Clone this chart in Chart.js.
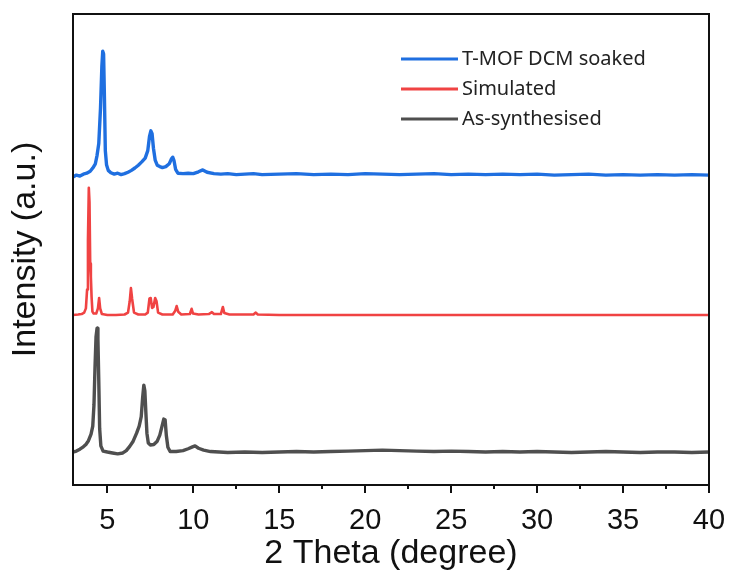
<!DOCTYPE html>
<html>
<head>
<meta charset="utf-8">
<script src="https://cdn.jsdelivr.net/npm/chart.js@4"></script>
<style>
  html, body { margin: 0; padding: 0; background: #fff; }
  #wrap { width: 731px; height: 571px; }
</style>
</head>
<body>
<div id="wrap"><canvas id="c" width="731" height="571"></canvas></div>
<script>
// ---- data ----
const seriesLabels = ['T-MOF DCM soaked', 'Simulated', 'As-synthesised'];
const seriesColors = ['#1f6fe0', '#f04343', '#4f4f4f'];

const blueX = [3.0,3.2,3.4,3.6,3.8,4.0,4.15,4.3,4.4,4.5,4.6,4.68,4.73,4.78,4.83,4.88,4.95,5.05,5.2,5.4,5.6,5.8,6.0,6.2,6.4,6.6,6.8,7.0,7.2,7.35,7.45,7.53,7.6,7.68,7.78,7.9,8.05,8.2,8.4,8.6,8.72,8.8,8.88,8.97,9.1,9.4,9.7,10.0,10.3,10.55,10.8,11.2,11.6,12.0,12.5,13.0,13.5,14.0,15,16,17,18,19,20,21,22,23,24,25,26,27,28,29,30,31,32,33,34,35,36,37,38,39,40];
const blueY = [65.4,65.8,65.6,66.0,66.2,66.6,67.3,68.2,70.0,72.5,80.0,89.0,92.1,91.5,82.0,71.0,68.0,66.8,66.3,66.0,66.2,65.9,66.1,66.4,66.8,67.3,67.9,68.6,69.4,71.0,74.0,75.2,74.6,71.5,69.0,67.9,67.6,67.4,67.6,68.2,69.2,69.6,68.8,67.0,66.2,66.1,66.2,66.1,66.5,66.9,66.4,66.1,66.0,66.1,65.9,66.0,66.1,65.9,66.0,66.1,65.9,66.0,65.9,66.1,66.0,65.9,66.0,66.1,65.9,66.0,65.9,66.0,65.9,66.0,65.8,65.9,66.0,65.8,65.9,65.8,65.9,65.8,65.9,65.8];

const redX = [3.0,3.3,3.5,3.65,3.75,3.82,3.87,3.92,3.96,4.0,4.04,4.08,4.13,4.2,4.35,4.45,4.52,4.58,4.68,5.0,5.5,6.0,6.2,6.3,6.37,6.44,6.55,6.8,7.2,7.35,7.45,7.52,7.6,7.68,7.78,7.86,7.95,8.2,8.8,8.95,9.03,9.12,9.3,9.8,9.9,9.98,10.3,10.9,11.08,11.2,11.6,11.72,11.8,12.1,13.5,13.62,13.75,15,20,25,30,35,40];
const redY = [36.1,36.2,36.3,36.6,37.5,41.5,52.0,63.1,60.0,47.0,44.2,40.0,36.8,36.4,36.4,37.5,39.7,37.5,36.3,36.1,36.1,36.2,36.6,39.0,41.8,39.5,36.6,36.2,36.2,36.6,39.6,39.7,37.6,37.8,39.7,39.0,36.6,36.2,36.2,37.0,38.0,36.8,36.2,36.3,37.4,36.4,36.2,36.3,36.7,36.3,36.3,37.8,36.5,36.2,36.2,36.6,36.2,36.1,36.1,36.1,36.1,36.1,36.1];

const greyX = [3.0,3.2,3.4,3.6,3.75,3.9,4.05,4.15,4.22,4.28,4.34,4.4,4.45,4.5,4.55,4.62,4.75,5.0,5.3,5.6,5.9,6.1,6.3,6.5,6.7,6.85,6.97,7.05,7.12,7.18,7.24,7.3,7.38,7.5,7.7,7.9,8.05,8.18,8.28,8.36,8.43,8.52,8.65,9.0,9.4,9.7,9.95,10.1,10.3,10.6,11.0,11.5,12.0,13,14,15,16,17,18,19,20,21,22,23,24,25,26,27,28,29,30,31,32,33,34,35,36,37,38,39,40];
const greyY = [7.0,7.2,7.6,8.1,8.6,9.4,10.8,12.5,17.0,25.0,31.5,33.3,31.0,22.0,12.0,8.3,7.2,7.0,6.8,6.6,6.8,7.3,8.2,9.3,11.0,12.5,14.5,18.5,21.2,20.0,15.3,11.0,8.9,8.5,8.6,9.3,10.6,12.5,14.0,13.8,10.5,8.0,7.1,7.1,7.3,7.7,8.1,8.3,7.8,7.4,7.1,7.0,6.9,7.0,6.9,7.0,7.1,7.0,7.1,7.2,7.3,7.4,7.3,7.2,7.1,7.2,7.1,7.0,7.1,7.0,7.1,7.0,6.9,7.0,7.1,7.0,6.9,7.0,7.0,6.9,7.0];

const xMin = 3, xMax = 40;
const majorTicks = [5,10,15,20,25,30,35,40];
const minorTicks = [7.5,12.5,17.5,22.5,27.5,32.5,37.5];

function zip(xs, ys) {
  const n = Math.min(xs.length, ys.length);
  const out = [];
  for (let i = 0; i < n; i++) out.push({x: xs[i], y: ys[i]});
  return out;
}

const frameAndLegend = {
  id: 'frameAndLegend',
  afterDatasetsDraw(chart) {
    const {ctx, chartArea: a, scales: {x}} = chart;
    ctx.save();
    ctx.strokeStyle = '#111';
    ctx.lineWidth = 2;
    ctx.strokeRect(a.left, a.top, a.right - a.left, a.bottom - a.top);
    ctx.beginPath();
    majorTicks.forEach(v => {
      const px = Math.round(x.getPixelForValue(v));
      ctx.moveTo(px, a.bottom); ctx.lineTo(px, a.bottom + 8);
    });
    minorTicks.forEach(v => {
      const px = Math.round(x.getPixelForValue(v));
      ctx.moveTo(px, a.bottom); ctx.lineTo(px, a.bottom + 4);
    });
    ctx.stroke();
    const lx = a.left + 328, ly = a.top + 45, step = 30;
    ctx.font = '20px "Noto Sans"';
    ctx.textBaseline = 'alphabetic';
    ctx.textAlign = 'left';
    chart.data.datasets.forEach((ds, i) => {
      const y = ly + i * step;
      ctx.strokeStyle = ds.borderColor;
      ctx.lineWidth = 3;
      ctx.beginPath();
      ctx.moveTo(lx, y); ctx.lineTo(lx + 57, y);
      ctx.stroke();
      ctx.fillStyle = '#222';
      ctx.fillText(ds.label, lx + 61, y + 6);
    });
    ctx.restore();
  }
};

new Chart(document.getElementById('c'), {
  type: 'line',
  data: {
    datasets: [
      {label: seriesLabels[0], data: zip(blueX, blueY), borderColor: seriesColors[0], borderWidth: 3.4},
      {label: seriesLabels[1], data: zip(redX, redY), borderColor: seriesColors[1], borderWidth: 2.6},
      {label: seriesLabels[2], data: zip(greyX, greyY), borderColor: seriesColors[2], borderWidth: 3.4}
    ]
  },
  options: {
    responsive: false,
    animation: false,
    elements: { point: { radius: 0 }, line: { tension: 0, borderJoinStyle: 'round', fill: false } },
    layout: { padding: { top: 14, right: 22, left: 0, bottom: 0 } },
    plugins: { legend: { display: false }, tooltip: { enabled: false } },
    scales: {
      x: {
        type: 'linear', min: xMin, max: xMax,
        afterFit: s => { s.height = 86; s.paddingLeft = 0; s.paddingRight = 0; },
        afterBuildTicks: s => { s.ticks = majorTicks.map(v => ({value: v})); },
        grid: { display: true, drawOnChartArea: false, drawTicks: false },
        border: { display: false },
        ticks: { font: { family: '"Liberation Sans", Arial, sans-serif', size: 29 }, color: '#111', padding: 19, maxRotation: 0, autoSkip: false },
        title: { display: true, text: '2 Theta (degree)', color: '#111',
          font: { family: '"Liberation Sans", Arial, sans-serif', size: 34, lineHeight: 1 }, padding: { top: 0, bottom: 0 } }
      },
      y: {
        type: 'linear', min: 0, max: 100,
        afterFit: s => { s.width = 73; s.paddingTop = 0; s.paddingBottom = 0; },
        grid: { display: false },
        border: { display: false },
        ticks: { display: false },
        title: { display: true, text: 'Intensity (a.u.)', color: '#111',
          font: { family: '"Liberation Sans", Arial, sans-serif', size: 34, lineHeight: 1 }, padding: { top: 9, bottom: 0 } }
      }
    }
  },
  plugins: [frameAndLegend]
});
</script>
</body>
</html>
